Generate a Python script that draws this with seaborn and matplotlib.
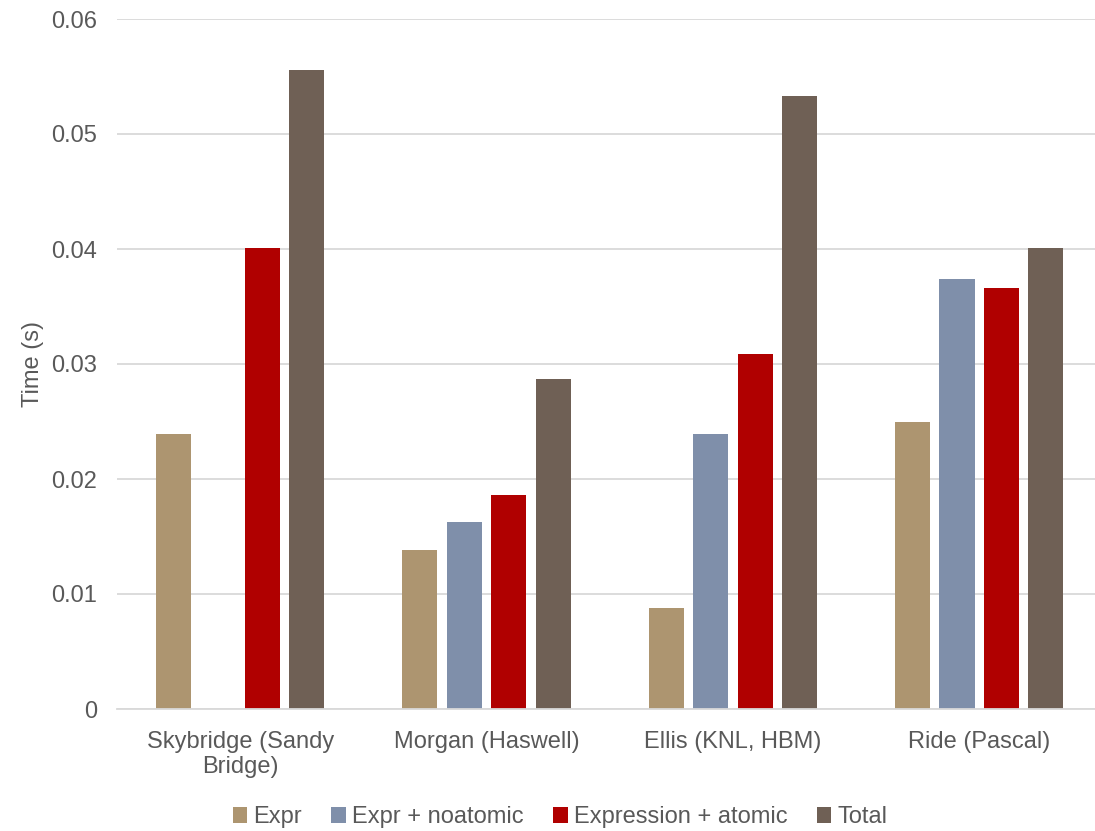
import numpy as np
import pandas as pd
import matplotlib
matplotlib.use("Agg")
import matplotlib.pyplot as plt
import seaborn as sns

systems = ["Skybridge (Sandy\nBridge)", "Morgan (Haswell)", "Ellis (KNL, HBM)", "Ride (Pascal)"]
series = ["Expr", "Expr + noatomic", "Expression + atomic", "Total"]
expr = [0.0239, 0.0138, 0.0088, 0.0250]
expr_noatomic = [np.nan, 0.0163, 0.0239, 0.0374]
expr_atomic = [0.0401, 0.0186, 0.0309, 0.0366]
total = [0.0556, 0.0287, 0.0533, 0.0401]
yticks = [0, 0.01, 0.02, 0.03, 0.04, 0.05, 0.06]
ytick_labels = ["0", "0.01", "0.02", "0.03", "0.04", "0.05", "0.06"]

colors = ["#AD9570", "#7F8FAA", "#B00000", "#6F6055"]
text_color = "#595959"
grid_color = "#D9D9D9"
fs = 17

df = pd.DataFrame({
    "System": systems * 4,
    "Series": np.repeat(series, 4),
    "Time": expr + expr_noatomic + expr_atomic + total,
})

sns.set_theme(style="white")
plt.rcParams["font.family"] = ["Liberation Sans", "DejaVu Sans"]

fig = plt.figure(figsize=(10.95, 8.31), dpi=100)
ax = fig.add_axes([117 / 1095, 1 - 709 / 831, 1 - 117 / 1095, (709 - 19) / 831])

sns.barplot(data=df, x="System", y="Time", hue="Series", order=systems,
            hue_order=series, palette=colors, width=0.722, gap=0.21,
            saturation=1, linewidth=0, ax=ax, legend=True)

ax.set_ylim(0, 0.06)
ax.set_xlim(-0.5, 3.47)
ax.set_yticks(yticks)
ax.set_yticklabels(ytick_labels)
ax.yaxis.grid(True, color=grid_color, linewidth=1.3)
ax.set_axisbelow(True)
for side in ["left", "right", "top"]:
    ax.spines[side].set_visible(False)
ax.spines["bottom"].set_color(grid_color)
ax.spines["bottom"].set_linewidth(1.3)
ax.tick_params(axis="both", length=0, labelsize=fs, colors=text_color)
ax.tick_params(axis="y", pad=14.5)
ax.tick_params(axis="x", pad=15.5)
ax.set_xlabel("")
ax.set_ylabel("Time (s)", fontsize=fs, color=text_color, labelpad=5)

handles, labels = ax.get_legend_handles_labels()
ax.legend(handles, labels, loc="center", bbox_to_anchor=(0.453, -0.157),
          ncol=4, frameon=False, fontsize=fs, labelcolor=text_color,
          handlelength=0.62, handleheight=0.62, handletextpad=0.25,
          columnspacing=1.25)

fig.savefig("out.png", dpi=100, facecolor="white")
